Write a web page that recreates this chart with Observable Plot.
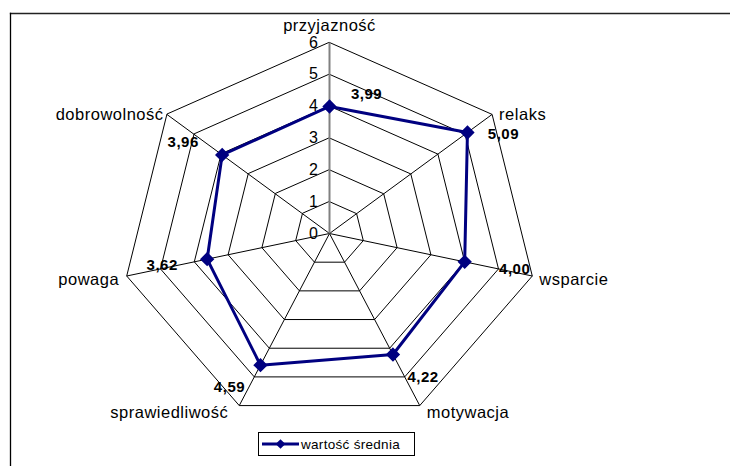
<!DOCTYPE html>
<html><head><meta charset="utf-8">
<script src="https://cdn.jsdelivr.net/npm/d3@7"></script>
<script src="https://cdn.jsdelivr.net/npm/@observablehq/plot@0.6"></script>
<style>
body{margin:0;background:#fff;font-family:"Liberation Sans",Arial,sans-serif}
#chart{position:relative;width:730px;height:466px;overflow:hidden}
#chart svg text{letter-spacing:0.5px}
#legend{position:absolute;left:258px;top:432px;width:157px;height:24px;box-sizing:border-box;border:1px solid #000;background:#fff;display:flex;align-items:center;font-size:13.5px;letter-spacing:0.3px;color:#000;white-space:nowrap}
#legend svg{margin-left:3px;margin-right:2px;flex:none}
</style>
</head><body>
<div id="chart"><div id="legend"></div></div>
<script>
const categories = ["przyjazność","relaks","wsparcie","motywacja","sprawiedliwość","powaga","dobrowolność"];
const values = [3.99, 5.09, 4.00, 4.22, 4.59, 3.62, 3.96];
const tickValues = [0, 1, 2, 3, 4, 5, 6];
const seriesName = "wartość średnia";

// layout (not data): pixel nudges for the value labels
const labelNudge = [[37,-12],[36,2],[50,7],[30,23],[-31,22],[-45,6],[-39,-13]];

const n = categories.length;
const maxR = 6;
const cx = 329, cy = 233, rx = 208, ry = 191;
const kx = rx / maxR, ky = ry / maxR; // pixels per unit
const ang = i => i * 2 * Math.PI / n;
const fmt = v => d3.format(".2f")(v).replace(".", ",");

const pts = values.map((v,i) => ({i, cat: categories[i], v, x: v*Math.sin(ang(i)), y: v*Math.cos(ang(i)), label: fmt(v)}));
const grid = [];
for (const r of tickValues.filter(t => t > 0)) for (let i = 0; i < n; i++) grid.push({r, x: r*Math.sin(ang(i)), y: r*Math.cos(ang(i))});
const spokes = categories.map((c,i) => ({i, x: maxR*Math.sin(ang(i)), y: maxR*Math.cos(ang(i))}));
const axisLabels = categories.map((c,i) => {
  const s = Math.sin(ang(i)), co = Math.cos(ang(i));
  const top = i === 0;
  const dx = Math.abs(s) < 0.1 ? 0 : (s > 0 ? 7 : -(6.5 - 5*co));
  const dy = top ? -17 : 3 - 5*co;
  return {c, x: maxR*s + dx/kx, y: maxR*co - dy/ky,
    anchor: Math.abs(s) < 0.1 ? "middle" : (s > 0 ? "start" : "end")};
});
const valueLabels = pts.map(p => ({label: p.label, x: p.x + labelNudge[p.i][0]/kx, y: p.y - labelNudge[p.i][1]/ky}));

const font = '"Liberation Sans", Arial, sans-serif';
const axisText = anchor => Plot.text(axisLabels.filter(d => d.anchor === anchor),
  {x: "x", y: "y", text: "c", textAnchor: anchor, fontSize: 16.5, fill: "#000"});

const plot = Plot.plot({
  width: 730, height: 466,
  marginTop: 13, marginLeft: 10, marginRight: 0, marginBottom: 0,
  x: {domain: [-maxR, maxR], range: [cx - rx, cx + rx], axis: null},
  y: {domain: [-maxR, maxR], range: [cy + ry, cy - ry], axis: null},
  style: {fontFamily: font, background: "#fff", overflow: "visible"},
  marks: [
    Plot.frame({anchor: "top", stroke: "#222", strokeWidth: 1.3}),
    Plot.frame({anchor: "left", stroke: "#000", strokeWidth: 1.3}),
    Plot.line(grid, {x: "x", y: "y", z: "r", curve: "linear-closed", stroke: "#000", strokeWidth: 1}),
    Plot.link(spokes.filter(d => d.i > 0), {x1: 0, y1: 0, x2: "x", y2: "y", stroke: "#000", strokeWidth: 1}),
    Plot.link(spokes.filter(d => d.i === 0), {x1: 0, y1: 0, x2: "x", y2: "y", stroke: "#808080", strokeWidth: 2}),
    Plot.text(tickValues, {x: 0, y: d => d, text: d => String(d), textAnchor: "end", dx: -11, fontSize: 16, fill: "#000"}),
    Plot.line(pts, {x: "x", y: "y", curve: "linear-closed", stroke: "#000080", strokeWidth: 3}),
    Plot.dot(pts, {x: "x", y: "y", symbol: "diamond2", r: 5.5, fill: "#000080", stroke: "#000080"}),
    axisText("start"), axisText("middle"), axisText("end"),
    Plot.text(valueLabels, {x: "x", y: "y", text: "label", fontSize: 15, fontWeight: "bold", fill: "#000"})
  ]
});
const chart = document.getElementById("chart");
chart.prepend(plot);

// legend
const legend = document.getElementById("legend");
const sw = d3.create("svg").attr("width", 37).attr("height", 12);
sw.append("line").attr("x1", 0).attr("x2", 37).attr("y1", 6).attr("y2", 6).attr("stroke", "#000080").attr("stroke-width", 3);
sw.append("path").attr("d", d3.symbol(d3.symbolDiamond2, 60)()).attr("transform", "translate(18.5,6)").attr("fill", "#000080");
legend.append(sw.node());
const lt = document.createElement("span");
lt.textContent = seriesName;
legend.append(lt);
</script>
</body></html>
